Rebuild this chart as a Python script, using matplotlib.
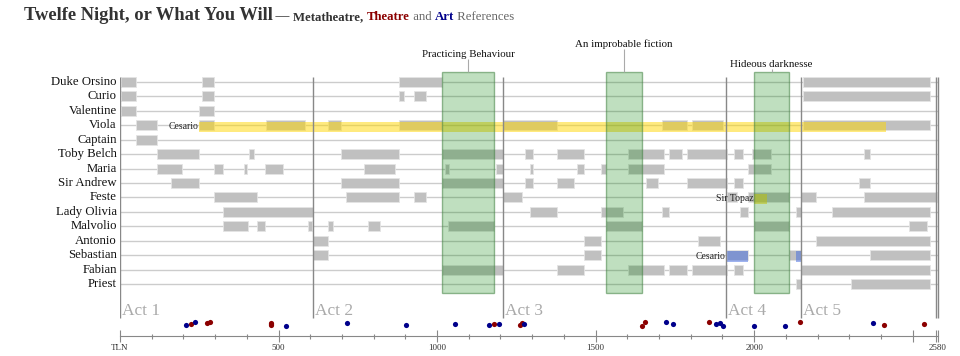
import matplotlib.pyplot as plt

plt.rcParams['font.family'] = ['Liberation Serif', 'DejaVu Serif']

# characters, top to bottom, and the TLN spans where each is on stage
characters = ["Duke Orsino", "Curio", "Valentine", "Viola", "Captain",
              "Toby Belch", "Maria", "Sir Andrew", "Feste", "Lady Olivia",
              "Malvolio", "Antonio", "Sebastian", "Fabian", "Priest"]

appearances = [
    [(2, 50), (258, 297), (880, 1015), (2155, 2555)],                      # Duke Orsino
    [(2, 50), (258, 297), (881, 897), (928, 965), (2155, 2555)],           # Curio
    [(2, 50), (250, 297)],                                                 # Valentine
    [(50, 118), (250, 297), (461, 584), (655, 697), (881, 1015),
     (1209, 1379), (1710, 1789), (1804, 1902), (2155, 2555)],              # Viola
    [(50, 118)],                                                           # Captain
    [(118, 250), (407, 423), (697, 881), (1015, 1209), (1278, 1304),
     (1379, 1464), (1603, 1716), (1733, 1774), (1789, 1914),
     (1938, 1965), (1994, 2054), (2347, 2366)],                            # Toby Belch
    [(118, 196), (297, 325), (391, 401), (457, 514), (769, 868),
     (1025, 1038), (1186, 1209), (1293, 1304), (1442, 1464),
     (1518, 1533), (1603, 1716), (1981, 2054)],                            # Maria
    [(161, 250), (697, 881), (1015, 1209), (1278, 1304), (1379, 1432),
     (1659, 1698), (1789, 1914), (1938, 1965), (2330, 2366)],              # Sir Andrew
    [(297, 432), (713, 881), (928, 965), (1209, 1269), (1914, 1946),
     (1981, 2109), (2149, 2196), (2347, 2576)],                            # Feste
    [(325, 610), (1293, 1379), (1518, 1585), (1710, 1733), (1957, 1980),
     (2132, 2149), (2246, 2555)],                                          # Lady Olivia
    [(325, 404), (432, 457), (594, 606), (655, 673), (782, 820),
     (1036, 1181), (1533, 1645), (2001, 2109), (2489, 2545)],              # Malvolio
    [(610, 655), (1464, 1517), (1823, 1891), (2196, 2555)],                # Antonio
    [(610, 655), (1464, 1517), (1914, 1980), (2109, 2149), (2367, 2555)],  # Sebastian
    [(1015, 1209), (1379, 1464), (1603, 1716), (1733, 1789), (1804, 1914),
     (1938, 1965), (2149, 2555)],                                          # Fabian
    [(2132, 2149), (2306, 2555)],                                          # Priest
]

# disguises / mistaken identities
disguise_char = ["Viola", "Feste", "Sebastian", "Sebastian"]
disguise_label = ["Cesario", "Sir Topaz", "Cesario", ""]
disguise_span = [(250, 2416), (2000, 2041), (1914, 1980), (2132, 2149)]
disguise_kind = ["disguise", "disguise", "mistaken", "mistaken"]

# metatheatrical scenes
themes = ["Practicing Behaviour", "An improbable fiction", "Hideous darknesse"]
theme_span = [(1015, 1181), (1533, 1645), (2001, 2109)]

act_starts = [0, 609, 1208, 1912, 2148]
total_tln = 2580

# theatre (red) and art (blue) references: TLN and small vertical jitter
theatre_tln = [223, 275, 285, 475, 475, 475, 1180, 1261, 1268, 1647, 1657,
               1857, 2146, 2409, 2537]
theatre_jit = [2, 1, 0, 1, 2, 3, 2, 3, 1, 4, 0, 0, 0, 3, 2]
art_tln = [208, 237, 524, 715, 902, 1056, 1165, 1194, 1274, 1722, 1744,
           1879, 1893, 1901, 2001, 2096, 2376]
art_jit = [3, 0, 4, 1, 3, 2, 3, 2, 2, 0, 2, 2, 1, 4, 4, 4, 1]

# ---- layout (pixels of the 960x356 picture) ----
W, H = 960, 356
X0, X1 = 120, 938
ROW0, ROW_PX = 82, 14.43


def fy(px):
    return 1 - px / H


def row(px):
    return (px - ROW0) / ROW_PX


fig = plt.figure(figsize=(W / 100, H / 100), dpi=100)
ax = fig.add_axes([X0 / W, fy(332), (X1 - X0) / W, (332 - 36) / H])
ax.set_xlim(0, total_tln)
ax.set_ylim(row(332), row(36))
ax.axis('off')

n = len(characters)
ax.hlines(range(n), 0, total_tln, color='#cccccc', lw=1, zorder=1)

for i, segs in enumerate(appearances):
    ax.broken_barh([(s, e - s) for s, e in segs], (i - 0.345, 0.69),
                   facecolor='#c0c0c0', edgecolor='#e4e4e4', lw=0.6, zorder=2)
    ax.text(-10, i, characters[i], ha='right', va='center', fontsize=9.2,
            color='#111111', clip_on=False)

kind_color = {"disguise": (1.0, 0.84, 0.0, 0.5), "mistaken": (0.25, 0.41, 0.88, 0.5)}
for c, lab, (s, e), k in zip(disguise_char, disguise_label, disguise_span, disguise_kind):
    i = characters.index(c)
    ax.bar(s, 0.72, width=e - s, bottom=i - 0.26, align='edge',
           color=kind_color[k], zorder=3)
    if lab:
        ax.text(s - 3, i + 0.07, lab, ha='right', va='center', fontsize=7,
                color='#222222', zorder=5)

label_base = [57, 47, 67]
for name, (s, e), b in zip(themes, theme_span, label_base):
    ax.bar(s, row(293.3) - row(72.3), width=e - s, bottom=row(72.3), align='edge',
           facecolor=(0.0, 0.5, 0.0, 0.25), edgecolor=(0.25, 0.5, 0.25, 0.55),
           lw=1, zorder=4)
    mid = (s + e) / 2
    ax.vlines(mid, row(b + 2), row(72.3), color='#aaaaaa', lw=0.8, zorder=4)
    ax.text(mid, row(b), name, ha='center', va='baseline', fontsize=7.8,
            color='#111111')

ax.vlines(act_starts, row(77), row(318), color='#888888', lw=1, zorder=3)
ax.vlines([total_tln - 5, total_tln], row(77), row(318), color='#888888', lw=1,
          zorder=3, clip_on=False)
for k, a in enumerate(act_starts):
    ax.text(a + 6, row(315), f"Act {k + 1}", ha='left', va='baseline',
            fontsize=12.5, color='#aaaaaa')

ax.scatter(theatre_tln, [row(322) + j / ROW_PX for j in theatre_jit], s=14,
           color='#8b0000', zorder=5, clip_on=False, lw=0)
ax.scatter(art_tln, [row(322) + j / ROW_PX for j in art_jit], s=14,
           color='#00008b', zorder=5, clip_on=False, lw=0)

# TLN axis
ax2 = fig.add_axes([X0 / W, fy(336), (X1 - X0) / W, 1 / H])
ax2.set_xlim(0, total_tln)
ax2.patch.set_alpha(0)
for sp in ['top', 'left', 'right']:
    ax2.spines[sp].set_visible(False)
ax2.spines['bottom'].set_color('#888888')
ax2.set_yticks([])
ax2.set_xticks([0, 500, 1000, 1500, 2000, 2500, total_tln - 5, total_tln])
ax2.set_xticklabels(['TLN', '500', '1000', '1500', '2000', '', '', str(total_tln)])
ax2.set_xticks(range(100, 2500, 100), minor=True)
ax2.tick_params(axis='x', which='major', direction='inout', length=8, width=0.8,
                color='#888888', labelsize=6.5, labelcolor='#333333', pad=2)
ax2.tick_params(axis='x', which='minor', direction='inout', length=3.6, width=0.8,
                color='#888888')

# title with coloured words
renderer = fig.canvas.get_renderer()
pieces = [("Twelfe Night, or What You Will", 13.3, 'bold', '#333333'),
          (" \u2014 ", 10, 'normal', '#333333'),
          ("Metatheatre, ", 9.2, 'bold', '#333333'),
          ("Theatre", 9.2, 'bold', '#8b0000'),
          (" and ", 9.2, 'normal', '#666666'),
          ("Art", 9.2, 'bold', '#00008b'),
          (" References", 9.2, 'normal', '#666666')]
x = 23.5
for txt, size, weight, col in pieces:
    t = fig.text(x / W, fy(20.5), txt, fontsize=size, fontweight=weight,
                 fontstyle='normal', color=col, va='baseline', ha='left')
    x = t.get_window_extent(renderer).x1

fig.savefig('out.png', dpi=100)
